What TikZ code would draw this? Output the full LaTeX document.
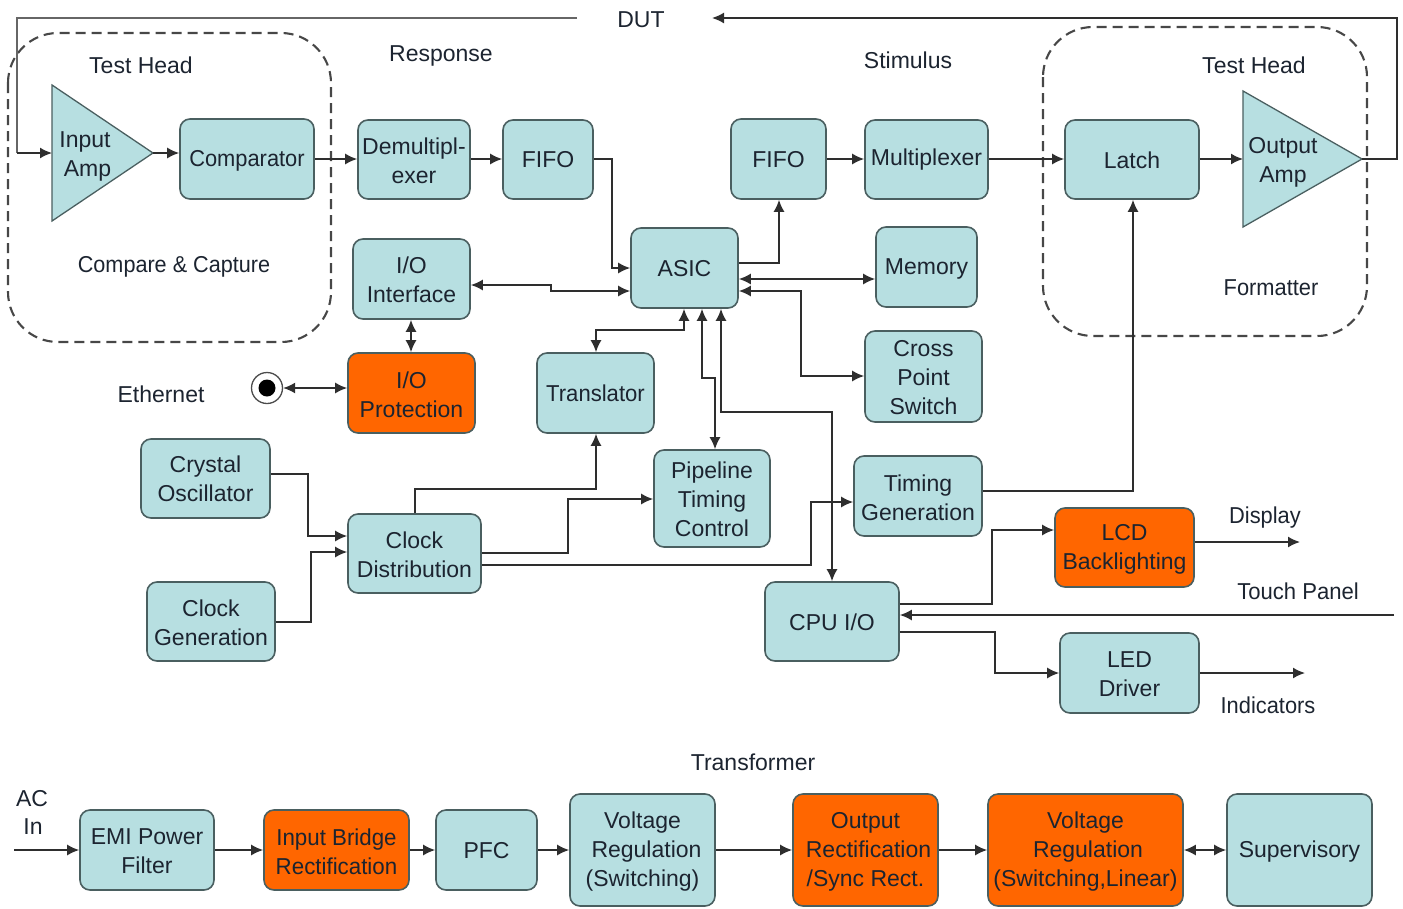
\documentclass[tikz,border=0pt]{standalone}
\usepackage{fontspec}
\setmainfont{Liberation Sans}
\usetikzlibrary{arrows.meta}
\definecolor{boxfill}{HTML}{B7DFE1}
\definecolor{boxline}{HTML}{4A5F60}
\definecolor{hot}{HTML}{FF6600}
\definecolor{ink}{HTML}{1C2430}
\tikzset{
  txt/.style={font=\fontsize{23}{29}\selectfont,text=ink,align=center,inner sep=0pt},
  box/.style={draw=boxline,line width=1.6pt,rounded corners=10pt,fill=boxfill,inner sep=0pt},
  hotbox/.style={box,fill=hot},
  tri/.style={draw=boxline,line width=1.3pt,fill=boxfill,line join=miter},
  head/.style={draw=black!72,line width=2.1pt,dash pattern=on 10pt off 6pt,rounded corners=50pt},
  conn/.style={draw=black!82,line width=1.6pt,-{Latex[length=12pt,width=11pt]}},
  both/.style={draw=black!82,line width=1.6pt,{Latex[length=12pt,width=11pt]}-{Latex[length=12pt,width=11pt]}},
  plain/.style={draw=black!60,line width=2pt}
}
\def\dy{1.5}
% name, x1, y1, x2, y2, style, text
\newcommand{\bx}[7]{\node[#6,minimum width=#4pt-#2pt,minimum height=#5pt-#3pt] (#1) at ({(#2+#4)/2},{(#3+#5)/2}) {};
  \node[txt] (#1t) at ([yshift=-\dy pt]#1.center) {#7};}
\begin{document}
\begin{tikzpicture}[x=1pt,y=-1pt]
\useasboundingbox (0,0) rectangle (1403,908);
% dashed test heads
\draw[head] (8,33) rectangle (331,342);
\draw[head] (1043,27) rectangle (1367,336);
% triangles
\coordinate (inW) at (52,153);
\coordinate (inTip) at (153,153);
\coordinate (outW) at (1243,159);
\coordinate (outTip) at (1362,159);
\draw[tri] (52,85) -- (inTip) -- (52,221) -- cycle;
\draw[tri] (1243,91) -- (outTip) -- (1243,227) -- cycle;
\node[txt] (inamp) at (85,156) {Input\\\hspace*{5pt}Amp};
\node[txt] (outamp) at (1283,162) {Output\\Amp};
% boxes
\bx{comp}{180}{119}{314}{199}{box}{\scalebox{.95}[1]{Comparator}}
\bx{demux}{358}{120}{470}{199}{box}{Demultipl-\\exer}
\bx{mem}{876}{227}{977}{307}{box}{Memory}
\bx{cross}{865}{331}{982}{422}{box}{Cross\\Point\\Switch}
\bx{ioprot}{348}{353}{475}{433}{hotbox}{I/O\\Protection}
\bx{tgen}{854}{456}{982}{536}{box}{Timing\\Generation}
\bx{lcd}{1055}{508}{1194}{587}{hotbox}{LCD\\Backlighting}
\bx{cdist}{348}{514}{481}{593}{box}{Clock\\Distribution}
\bx{cgen}{147}{582}{275}{661}{box}{Clock\\Generation}
\bx{led}{1060}{633}{1199}{713}{box}{LED\\Driver}
\bx{emi}{80}{810}{214}{890}{box}{EMI Power\\Filter}
\bx{bridge}{264}{810}{409}{890}{hotbox}{\scalebox{.97}[1]{Input Bridge}\\\scalebox{.97}[1]{Rectification}}
\bx{vrs}{570}{794}{715}{906}{box}{Voltage\\\hspace*{8pt}Regulation\\(Switching)}
\bx{orect}{793}{794}{938}{906}{hotbox}{Output\\\hspace*{6pt}Rectification\\/Sync Rect.}
\bx{vrl}{988}{794}{1183}{906}{hotbox}{Voltage\\\hspace*{5pt}Regulation\\(Switching,Linear)}
\bx{sup}{1227}{794}{1372}{906}{box}{Supervisory}
\def\dy{0.5}
\bx{fifoA}{503}{120}{593}{199}{box}{FIFO}
\bx{fifoB}{731}{119}{826}{199}{box}{FIFO}
\bx{mux}{865}{120}{988}{199}{box}{Multiplexer}
\bx{latch}{1065}{120}{1199}{199}{box}{Latch}
\bx{ioif}{353}{239}{470}{319}{box}{I/O\\Interface}
\bx{asic}{631}{228}{738}{308}{box}{ASIC}
\bx{trans}{537}{353}{654}{433}{box}{\scalebox{.96}[1]{Translator}}
\bx{xtal}{141}{439}{270}{518}{box}{Crystal\\Oscillator}
\bx{pipe}{654}{450}{770}{547}{box}{Pipeline\\Timing\\Control}
\bx{cpu}{765}{582}{899}{661}{box}{CPU I/O}
\bx{pfc}{436}{810}{537}{890}{box}{PFC}
% ethernet jack
\node[circle,draw=black!70,line width=1.3pt,fill=white,minimum size=31pt,inner sep=0pt] (jack) at (267,388) {};
\node[circle,fill=black,minimum size=17pt,inner sep=0pt] (jackc) at (267,388) {};
% labels
\node[txt] (dut) at (641,20) {DUT};
\node[txt] (l1) at (141,65) {Test Head};
\node[txt] (l2) at (441,56) {Response};
\node[txt] (l3) at (908,60) {Stimulus};
\node[txt] (l4) at (1254,65) {Test Head};
\node[txt] (l5) at (174,267) {\scalebox{.94}[1]{Compare \& Capture}};
\node[txt] (l6) at (1271,288) {\scalebox{.95}[1]{Formatter}};
\node[txt] (l7) at (161,394) {Ethernet};
\node[txt] (l8) at (1265,518) {\scalebox{.95}[1]{Display}};
\node[txt] (l9) at (1298,591) {\scalebox{.96}[1]{Touch Panel}};
\node[txt] (l10) at (1268,705) {\scalebox{.95}[1]{Indicators}};
\node[txt] (l11) at (753,762) {Transformer};
\node[txt] (l12) at (32,799) {AC};
\node[txt] (l13) at (33,827) {In};
% free ends
\coordinate (dutL) at (577,18);
\coordinate (dutR) at (712,18);
\coordinate (touch) at (1394,615);
\coordinate (lcdOut) at (1300,542);
\coordinate (ledOut) at (1305,673);
\coordinate (acIn) at (14,850);
% connectors
\draw[plain] (dutL) -- (17,18) -- (17,153);
\draw[conn] (17,153) -- (inW);
\draw[conn] (inTip) -- (comp.west |- inTip);
\draw[conn] (comp.east |- 0,159) -- (demux.west |- 0,159);
\draw[conn] (demux.east |- 0,159) -- (fifoA.west |- 0,159);
\draw[conn] (fifoA.east |- 0,159) -- (612,159) -- (612,268) -- (asic.west |- 0,268);
\draw[both] (ioif.east |- 0,285) -- (551,285) -- (551,291) -- (asic.west |- 0,291);
\draw[both] (ioif.south -| 411,0) -- (ioprot.north -| 411,0);
\draw[both] (jack.east) -- (ioprot.west |- jack.east);
\draw[conn] (asic.east |- 0,263) -- (779,263) -- (fifoB.south -| 779,0);
\draw[conn] (fifoB.east |- 0,159) -- (mux.west |- 0,159);
\draw[conn] (mux.east |- 0,159) -- (latch.west |- 0,159);
\draw[conn] (latch.east |- 0,159) -- (outW);
\draw[conn] (outTip) -- (1397,159) -- (1397,18) -- (dutR);
\draw[both] (asic.east |- 0,279) -- (mem.west |- 0,279);
\draw[both] (asic.east |- 0,291) -- (801,291) -- (801,376) -- (cross.west |- 0,376);
\draw[both] (asic.south -| 684,0) -- (684,330) -- (596,330) -- (trans.north -| 596,0);
\draw[both] (asic.south -| 702,0) -- (702,378) -- (715,378) -- (pipe.north -| 715,0);
\draw[both] (asic.south -| 721,0) -- (721,412) -- (832,412) -- (cpu.north -| 832,0);
\draw[conn] (tgen.east |- 0,491) -- (1133,491) -- (latch.south -| 1133,0);
\draw[conn] (xtal.east |- 0,474) -- (308,474) -- (308,536) -- (cdist.west |- 0,536);
\draw[conn] (cgen.east |- 0,622) -- (311,622) -- (311,552) -- (cdist.west |- 0,552);
\draw[conn] (cdist.north -| 415,0) -- (415,489) -- (596,489) -- (trans.south -| 596,0);
\draw[conn] (cdist.east |- 0,553) -- (568,553) -- (568,499) -- (pipe.west |- 0,499);
\draw[conn] (cdist.east |- 0,565) -- (811,565) -- (811,502) -- (tgen.west |- 0,502);
\draw[conn] (cpu.east |- 0,604) -- (992,604) -- (992,530) -- (lcd.west |- 0,530);
\draw[conn] (cpu.east |- 0,632) -- (995,632) -- (995,673) -- (led.west |- 0,673);
\draw[conn] (touch) -- (cpu.east |- touch);
\draw[conn] (lcd.east |- lcdOut) -- (lcdOut);
\draw[conn] (led.east |- ledOut) -- (ledOut);
\draw[conn] (acIn) -- (emi.west |- acIn);
\draw[conn] (emi.east |- acIn) -- (bridge.west |- acIn);
\draw[conn] (bridge.east |- acIn) -- (pfc.west |- acIn);
\draw[conn] (pfc.east |- acIn) -- (vrs.west |- acIn);
\draw[conn] (vrs.east |- acIn) -- (orect.west |- acIn);
\draw[conn] (orect.east |- acIn) -- (vrl.west |- acIn);
\draw[both] (vrl.east |- acIn) -- (sup.west |- acIn);
\end{tikzpicture}
\end{document}
